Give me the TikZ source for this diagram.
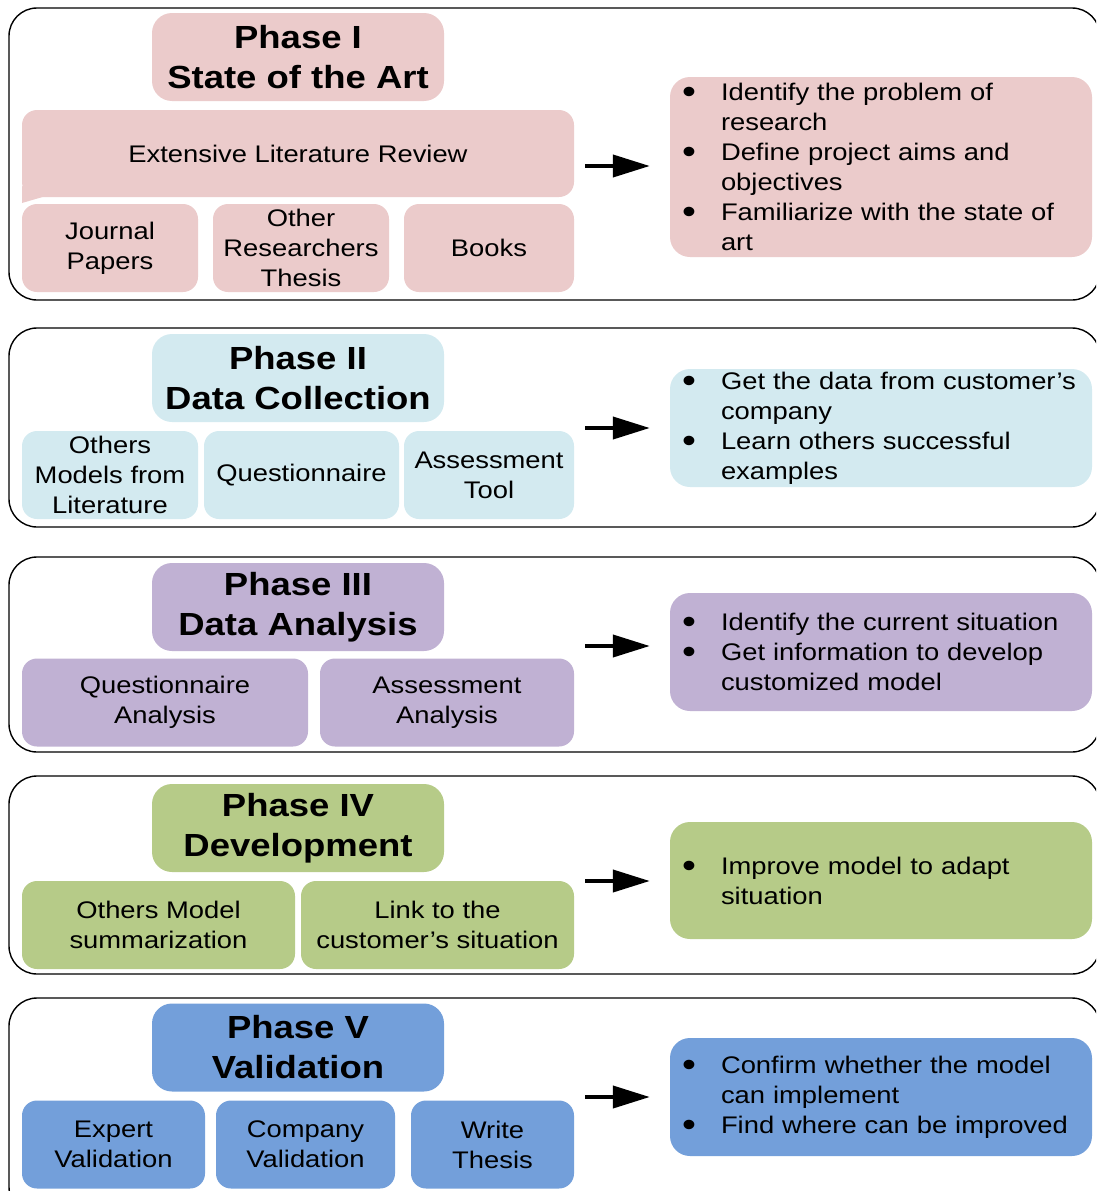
\documentclass[tikz,border=0pt]{standalone}
\usepackage{fontspec}
\setmainfont{Liberation Sans}
\newfontfamily\figfont[FakeStretch=1.14]{Liberation Sans}
\usetikzlibrary{arrows.meta}

\definecolor{pinkc}{HTML}{EBCBCB}
\definecolor{cyanc}{HTML}{D3EAF0}
\definecolor{lilac}{HTML}{C0B1D3}
\definecolor{olivec}{HTML}{B6CB88}
\definecolor{bluec}{HTML}{739FDA}

\newcommand\bodyfont{\figfont\fontsize{24}{30}\selectfont}
\newcommand\headfont{\figfont\bfseries\fontsize{32}{40}\selectfont}
\newcommand\bul{\makebox[39pt][l]{\raisebox{-0.14em}[0pt][0pt]{\scalebox{1.45}{\textbullet}}}}
\newcommand\cnt{\hspace*{39pt}}

\tikzset{
  frame/.style={draw=black, line width=1.4pt, rounded corners=28pt},
  headbox/.style={rounded corners=20pt, inner sep=0pt, align=center,
    minimum width=292pt, minimum height=88pt, font=\headfont},
  subbox/.style={rounded corners=15pt, inner sep=0pt, align=center,
    minimum height=88pt, font=\bodyfont},
  listbox/.style={rounded corners=20pt, inner xsep=12pt, inner ysep=0pt,
    align=left, text width=398pt, minimum width=422pt, font=\bodyfont},
  flow/.style={line width=4pt, -{Triangle[length=37pt,width=22pt]}, shorten >=20pt}
}

\begin{document}
\begin{tikzpicture}[x=1pt, y=-1pt]
\useasboundingbox (0,0) rectangle (1096,1191);
\clip (0,0) rectangle (1096,1191);

% phase frames
\draw[frame] (9,8) rectangle (1100,300);
\draw[frame] (9,328) rectangle (1100,527);
\draw[frame] (9,557) rectangle (1100,752);
\draw[frame] (9,776) rectangle (1100,974);
\draw[frame] (9,998) rectangle (1100,1215);

% ---------- Phase I ----------
\node[headbox, fill=pinkc] (t1) at (298,57) {Phase I\\State of the Art};
\fill[pinkc] (22,186) -- (22,203) -- (46,196) -- cycle;
\node[subbox, fill=pinkc, minimum width=552pt, minimum height=87pt] (e1) at (298,153.5)
  {Extensive Literature Review};
\node[subbox, fill=pinkc, minimum width=176pt] (s11) at (110,248) {Journal\\Papers};
\node[subbox, fill=pinkc, minimum width=176pt] (s12) at (301,248) {Other\\Researchers\\Thesis};
\node[subbox, fill=pinkc, minimum width=170pt] (s13) at (489,248) {Books};
\node[listbox, fill=pinkc, minimum height=180pt] (r1) at (881,167)
  {\bul Identify the problem of\\\cnt research\\
   \bul Define project aims and\\\cnt objectives\\
   \bul Familiarize with the state of\\\cnt art};
\coordinate (a1) at (585,166);
\draw[flow] (a1) -- (r1.west |- a1);

% ---------- Phase II ----------
\node[headbox, fill=cyanc] (t2) at (298,378) {Phase II\\Data Collection};
\node[subbox, fill=cyanc, minimum width=176pt] (s21) at (110,475) {Others\\Models from\\Literature};
\node[subbox, fill=cyanc, minimum width=195pt] (s22) at (301.5,475) {Questionnaire};
\node[subbox, fill=cyanc, minimum width=170pt] (s23) at (489,475) {Assessment\\Tool};
\node[listbox, fill=cyanc, minimum height=118pt] (r2) at (881,428)
  {\bul Get the data from customer’s\\\cnt company\\
   \bul Learn others successful\\\cnt examples};
\coordinate (a2) at (585,428);
\draw[flow] (a2) -- (r2.west |- a2);

% ---------- Phase III ----------
\node[headbox, fill=lilac] (t3) at (298,607) {Phase III\\Data Analysis};
\node[subbox, fill=lilac, minimum width=286pt] (s31) at (165,702.5) {Questionnaire\\Analysis};
\node[subbox, fill=lilac, minimum width=254pt] (s32) at (447,702.5) {Assessment\\Analysis};
\node[listbox, fill=lilac, minimum height=118pt] (r3) at (881,652)
  {\bul Identify the current situation\\
   \bul Get information to develop\\\cnt customized model};
\coordinate (a3) at (585,646);
\draw[flow] (a3) -- (r3.west |- a3);

% ---------- Phase IV ----------
\node[headbox, fill=olivec] (t4) at (298,828) {Phase IV\\Development};
\node[subbox, fill=olivec, minimum width=273pt] (s41) at (158.5,925) {Others Model\\summarization};
\node[subbox, fill=olivec, minimum width=273pt] (s42) at (437.5,925) {Link to the\\customer’s situation};
\node[listbox, fill=olivec, minimum height=117pt] (r4) at (881,880.5)
  {\bul Improve model to adapt\\\cnt situation};
\coordinate (a4) at (585,881);
\draw[flow] (a4) -- (r4.west |- a4);

% ---------- Phase V ----------
\node[headbox, fill=bluec] (t5) at (298,1047.5) {Phase V\\Validation};
\node[subbox, fill=bluec, minimum width=183pt] (s51) at (113.5,1144.5) {Expert\\Validation};
\node[subbox, fill=bluec, minimum width=179pt] (s52) at (305.5,1144.5) {Company\\Validation};
\node[subbox, fill=bluec, minimum width=163pt] (s53) at (492.5,1144.5) {Write\\Thesis};
\node[listbox, fill=bluec, minimum height=118pt] (r5) at (881,1097)
  {\bul Confirm whether the model\\\cnt can implement\\
   \bul Find where can be improved};
\coordinate (a5) at (585,1097);
\draw[flow] (a5) -- (r5.west |- a5);

\end{tikzpicture}
\end{document}
